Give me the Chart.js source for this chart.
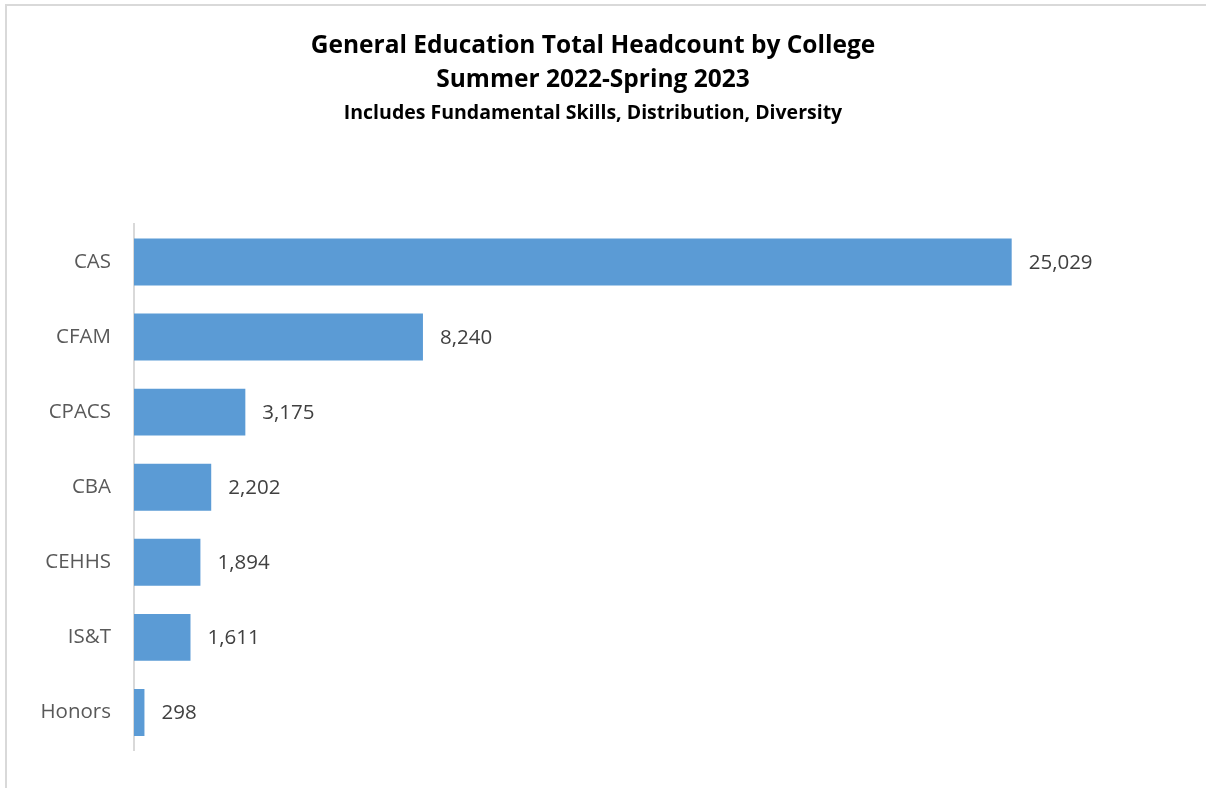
<!DOCTYPE html>
<html>
<head>
<meta charset="utf-8">
<script src="https://cdn.jsdelivr.net/npm/chart.js@4/dist/chart.umd.min.js"></script>
<style>
html,body{margin:0;padding:0;background:#fff;}
#frame{position:absolute;left:5px;top:4px;width:1210px;height:800px;border-left:2px solid #d9d9d9;border-top:2px solid #d9d9d9;box-sizing:border-box;}
#wrap{position:absolute;left:0;top:0;width:1206px;height:788px;}
</style>
</head>
<body>
<div id="frame"></div>
<div id="wrap"><canvas id="c" width="1206" height="788"></canvas></div>
<script>
const categories = ["CAS", "CFAM", "CPACS", "CBA", "CEHHS", "IS&T", "Honors"];
const headcount = [25029, 8240, 3175, 2202, 1894, 1611, 298];
const titleLines = ["General Education Total Headcount by College", "Summer 2022-Spring 2023"];
const subtitleText = "Includes Fundamental Skills, Distribution, Diversity";

const FONT = "'Open Sans', Lato, sans-serif";

const valueLabels = {
  id: 'valueLabels',
  afterDatasetsDraw(chart) {
    const ctx = chart.ctx;
    const meta = chart.getDatasetMeta(0);
    ctx.save();
    ctx.font = "20.5px " + FONT;
    ctx.fillStyle = "#404040";
    ctx.textAlign = "left";
    ctx.textBaseline = "middle";
    meta.data.forEach((el, i) => {
      ctx.fillText(headcount[i].toLocaleString('en-US'), el.x + 17, el.y + 1);
    });
    ctx.restore();
  }
};

new Chart(document.getElementById('c'), {
  type: 'bar',
  data: {
    labels: categories,
    datasets: [{
      data: headcount,
      backgroundColor: '#5B9BD5',
      borderWidth: 0,
      categoryPercentage: 1.0,
      barPercentage: 0.625
    }]
  },
  options: {
    indexAxis: 'y',
    responsive: false,
    animation: false,
    layout: { padding: { left: 0, right: 20, top: 0, bottom: 38 } },
    plugins: {
      legend: { display: false },
      tooltip: { enabled: false },
      title: {
        display: true,
        text: titleLines,
        color: '#000',
        font: { family: FONT, size: 24.5, weight: 'bold', lineHeight: 1.388 },
        padding: { top: 29, bottom: 0 }
      },
      subtitle: {
        display: true,
        text: subtitleText,
        color: '#000',
        font: { family: FONT, size: 19.5, weight: 'bold', lineHeight: 1.2 },
        padding: { top: 5, bottom: 99 }
      }
    },
    scales: {
      x: {
        display: false,
        min: 0,
        max: 30000
      },
      y: {
        grid: { display: false, drawTicks: false },
        border: { display: true, color: '#d9d9d9', width: 2 },
        ticks: {
          color: '#595959',
          padding: 23,
          font: { family: FONT, size: 20.5 }
        },
        afterFit(scale) { scale.width = 134; }
      }
    }
  },
  plugins: [valueLabels]
});
</script>
</body>
</html>
